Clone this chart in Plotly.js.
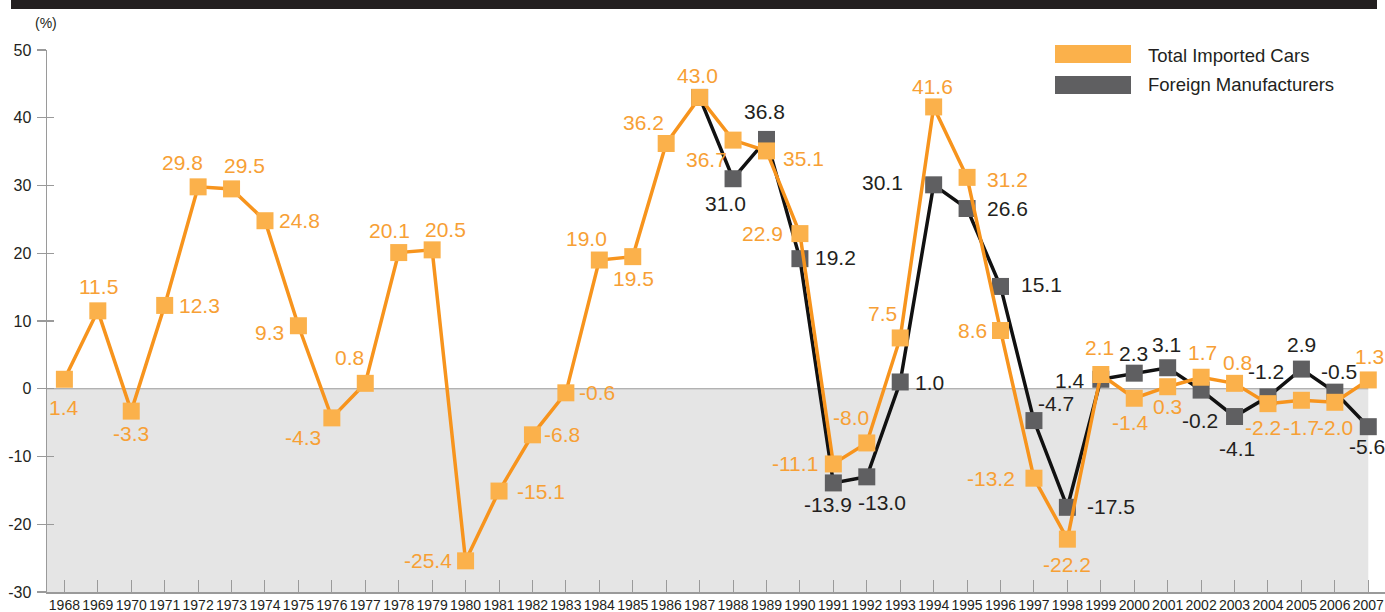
<!DOCTYPE html>
<html>
<head>
<meta charset="utf-8">
<script src="https://cdn.plot.ly/plotly-3.0.1.min.js"></script>
<style>html,body{margin:0;padding:0;background:#fff;}#chart{width:1385px;height:612px;}</style>
</head>
<body>
<div id="chart"></div>
<script>
// ---- data ----
const years = [1968,1969,1970,1971,1972,1973,1974,1975,1976,1977,1978,1979,1980,1981,1982,1983,1984,1985,1986,1987,1988,1989,1990,1991,1992,1993,1994,1995,1996,1997,1998,1999,2000,2001,2002,2003,2004,2005,2006,2007];
const totalImported = [1.4,11.5,-3.3,12.3,29.8,29.5,24.8,9.3,-4.3,0.8,20.1,20.5,-25.4,-15.1,-6.8,-0.6,19.0,19.5,36.2,43.0,36.7,35.1,22.9,-11.1,-8.0,7.5,41.6,31.2,8.6,-13.2,-22.2,2.1,-1.4,0.3,1.7,0.8,-2.2,-1.7,-2.0,1.3];
const foreignYears = [1987,1988,1989,1990,1991,1992,1993,1994,1995,1996,1997,1998,1999,2000,2001,2002,2003,2004,2005,2006,2007];
const foreignMfrs = [43.0,31.0,36.8,19.2,-13.9,-13.0,1.0,30.1,26.6,15.1,-4.7,-17.5,1.4,2.3,3.1,-0.2,-4.1,-1.2,2.9,-0.5,-5.6];
const seriesNames = ['Total Imported Cars','Foreign Manufacturers'];
const yTicks = [-30,-20,-10,0,10,20,30,40,50];

// ---- label placement (anchor, x shift px, y shift px downwards) ----
const totalLabelPos = [
 ['c',0,28],['c',1,-24],['c',0,22],['r',13,0],['c',-16,-24],['c',13,-23],['r',13,0],['l',-13,7],['c',-29,20],['c',-16,-26],
 ['c',-9,-22],['c',13,-20],['l',-13,0],['r',17,0],['r',11,0],['r',12,0],['c',-13,-22],['c',1,22],['c',-23,-21],['c',-2,-22],
 ['c',-27,19],['r',16,8],['l',-16,0],['l',-14,0],['c',-16,-25],['c',-18,-24],['c',-1,-20],['r',19,2],['l',-13,0],['l',-18,0],
 ['c',0,25],['c',-1,-27],['c',-4,24],['c',0,20],['c',1,-25],['c',3,-21],['c',-5,24],['c',0,27],['c',0,25],['c',1,-23]
];
const foreignLabelPos = [
 null,['c',-8,25],['c',-2,-28],['r',14,-1],['c',-5,22],['c',15,26],['r',14,1],['l',-30,-2],['r',19,0],['r',19,-2],
 ['c',22,-17],['r',19,-1],['l',-15,1],['c',-1,-20],['c',-1,-23],['c',-1,30],['c',2,32],['c',-2,-25],['c',0,-25],['c',4,-21],['c',-1,20]
];

const FONT = 'Liberation Sans, Arial, Helvetica, sans-serif';
const ORANGE_LINE = '#F7941D', ORANGE_MARK = '#FBB14B', ORANGE_TEXT = '#F7A035';
const DARK_MARK = '#5F5F61', DARK_LINE = '#111111', TEXT = '#231F20';

// plot geometry (pixels)
const L = 47, R = 1385, T = 50, B = 591.6;
const px = p => (p - L) / (R - L);
const py = p => (B - p) / (B - T);
const xMin = 1967.48, xMax = 2007.5;

const traces = [
  {x: foreignYears, y: foreignMfrs, name: seriesNames[1], type: 'scatter', mode: 'lines+markers',
   line: {color: DARK_LINE, width: 3.5}, marker: {symbol: 'square', size: 17, color: DARK_MARK},
   cliponaxis: false, showlegend: false, hoverinfo: 'skip'},
  {x: years, y: totalImported, name: seriesNames[0], type: 'scatter', mode: 'lines+markers',
   line: {color: ORANGE_LINE, width: 3.5}, marker: {symbol: 'square', size: 17, color: ORANGE_MARK},
   cliponaxis: false, showlegend: false, hoverinfo: 'skip'},
  {x: [xMin], y: [0], type: 'scatter', mode: 'markers', yaxis: 'y2', marker: {opacity: 0}, showlegend: false, hoverinfo: 'skip'}
];

function mkLabel(x, y, pos, color) {
  return {x: x, y: y, xref: 'x', yref: 'y', text: y.toFixed(1), showarrow: false,
    font: {family: FONT, size: 21, color: color}, yanchor: 'middle', yshift: -pos[2], xshift: pos[1],
    xanchor: pos[0] === 'c' ? 'center' : (pos[0] === 'r' ? 'left' : 'right'), borderpad: 0};
}
const annotations = [];
foreignYears.forEach((yr, i) => { if (foreignLabelPos[i]) annotations.push(mkLabel(yr, foreignMfrs[i], foreignLabelPos[i], TEXT)); });
years.forEach((yr, i) => annotations.push(mkLabel(yr, totalImported[i], totalLabelPos[i], ORANGE_TEXT)));
// axis unit
annotations.push({xref: 'paper', yref: 'paper', x: px(46), y: py(23), text: '(%)', showarrow: false,
  font: {family: FONT, size: 14, color: TEXT}, xanchor: 'center', yanchor: 'middle'});
// legend text
annotations.push({xref: 'paper', yref: 'paper', x: px(1146), y: py(55), text: seriesNames[0], showarrow: false,
  font: {family: FONT, size: 18.5, color: TEXT}, xanchor: 'left', yanchor: 'middle'});
annotations.push({xref: 'paper', yref: 'paper', x: px(1146), y: py(84), text: seriesNames[1], showarrow: false,
  font: {family: FONT, size: 18.5, color: TEXT}, xanchor: 'left', yanchor: 'middle'});

const shapes = [
  {type: 'rect', xref: 'x', yref: 'y', x0: xMin, x1: 2007, y0: -30, y1: 0, fillcolor: '#E5E5E5', line: {width: 0}, layer: 'below'},
  {type: 'line', xref: 'x', yref: 'y', x0: xMin, x1: 2007, y0: 0, y1: 0, line: {color: '#9A9A9A', width: 1}, layer: 'below'},
  {type: 'rect', xref: 'paper', yref: 'paper', x0: px(11), x1: px(1377), y0: py(9), y1: py(-2), fillcolor: '#231F20', line: {width: 0}},
  {type: 'rect', xref: 'paper', yref: 'paper', x0: px(1055), x1: px(1131), y0: py(63), y1: py(45), fillcolor: ORANGE_MARK, line: {width: 0}},
  {type: 'rect', xref: 'paper', yref: 'paper', x0: px(1055), x1: px(1131), y0: py(94), y1: py(76), fillcolor: DARK_MARK, line: {width: 0}}
];

const layout = {
  width: 1385, height: 612,
  margin: {l: L, r: 1385 - R, t: T, b: 612 - B, pad: 0},
  paper_bgcolor: '#ffffff', plot_bgcolor: 'rgba(0,0,0,0)',
  showlegend: false,
  font: {family: FONT, color: TEXT},
  xaxis: {range: [xMin, xMax], tickmode: 'array', tickvals: years, ticktext: years.map(String),
    ticks: 'inside', ticklen: 12, tickcolor: '#9A9A9A', tickwidth: 1, tickangle: 0,
    showline: true, linecolor: '#9A9A9A', linewidth: 1.5, showgrid: false, zeroline: false,
    tickfont: {family: FONT, size: 14, color: TEXT}, automargin: false, fixedrange: true},
  yaxis: {range: [-30, 50], tickmode: 'array', tickvals: yTicks, ticktext: yTicks.map(String),
    ticks: 'outside', ticklen: 9, tickcolor: '#9A9A9A', tickwidth: 1.2,
    showline: true, linecolor: '#9A9A9A', linewidth: 1.5, showgrid: false, zeroline: false,
    tickfont: {family: FONT, size: 16, color: TEXT}, automargin: false, fixedrange: true, ticklabelstandoff: 2},
  yaxis2: {range: [-30, 50], overlaying: 'y', side: 'left', tickmode: 'array', tickvals: yTicks,
    ticks: 'inside', ticklen: 7, tickcolor: '#9A9A9A', tickwidth: 1.2, showticklabels: false,
    showline: false, showgrid: false, zeroline: false, fixedrange: true},
  shapes: shapes,
  annotations: annotations
};

Plotly.newPlot('chart', traces, layout, {displayModeBar: false, staticPlot: true});
</script>
</body>
</html>
